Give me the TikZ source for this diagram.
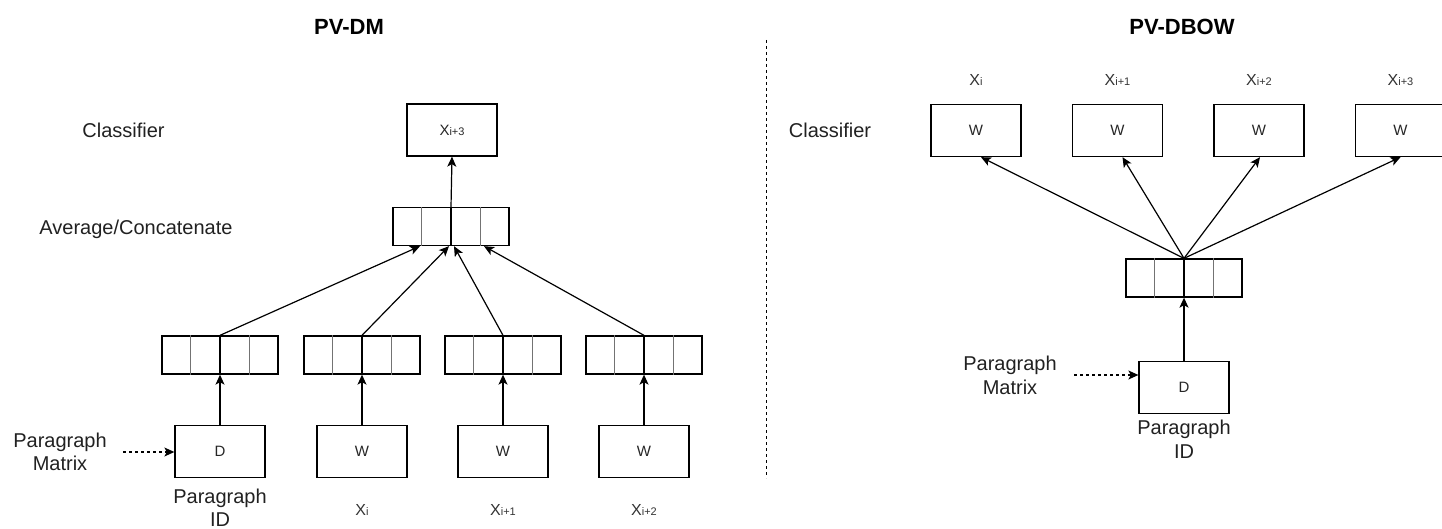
\documentclass[tikz,border=0pt]{standalone}
\usepackage{fontspec}
\setmainfont{Liberation Sans}
\usetikzlibrary{arrows.meta,calc}
% word label with a small index set beside the X
\newcommand{\xsub}[1]{X{\fontsize{11}{11}\selectfont #1}}

\begin{document}
\begin{tikzpicture}[x=1pt,y=-1pt,
  box/.style={draw, line width=1.3pt, minimum width=90pt, minimum height=52pt,
              inner sep=0pt, text=black!85, font=\fontsize{15}{15}\selectfont},
  vec/.style={draw, line width=1.3pt, minimum width=116pt, minimum height=38pt, inner sep=0pt},
  lbl/.style={font=\fontsize{20}{23.5}\selectfont, align=center, inner sep=0pt, text=black!87},
  ttl/.style={font=\fontsize{22}{22}\selectfont\bfseries, inner sep=0pt, anchor=base},
  xl/.style={font=\fontsize{16}{16}\selectfont, inner sep=0pt, anchor=base, text=black!80},
  arr/.style={-{Stealth[length=10pt,width=9pt,inset=2.5pt]}, line width=1.2pt},
  darr/.style={arr, dash pattern=on 3pt off 3pt}
]
\useasboundingbox (0,0) rectangle (1442,529);

% titles and separator
\node[ttl] (tdm) at (349,35) {PV-DM};
\node[ttl] (tdbow) at (1182,35) {PV-DBOW};
\coordinate (sepT) at (766,40);
\coordinate (sepB) at (766,478);
\draw[line width=1pt, dash pattern=on 3pt off 3pt] (sepT) -- (sepB);

% ---------------- PV-DM ----------------
\node[lbl, anchor=base] (clsL) at (123.5,137.5) {Classifier};
\node[lbl, anchor=base] (avgL) at (136,234.5) {Average/Concatenate};

\node[box] (out) at (452,130) {\xsub{i+3}};
\node[vec] (avg) at (451,226.5) {};

\node[vec] (vA) at (220,355) {};
\node[vec] (vB) at (362,355) {};
\node[vec] (vC) at (503,355) {};
\node[vec] (vD) at (644,355) {};

\node[box] (bD)  at (220,451.5) {D};
\node[box] (bW1) at (362,451.5) {W};
\node[box] (bW2) at (503,451.5) {W};
\node[box] (bW3) at (644,451.5) {W};

\node[xl] (lx1) at (362,515.5) {\xsub{i}};
\node[xl] (lx2) at (503,515.5) {\xsub{i+1}};
\node[xl] (lx3) at (644,515.5) {\xsub{i+2}};

\node[lbl] (pidL) at (220,507.5) {Paragraph\\ID};
\node[lbl] (pmL) at (60,452) {Paragraph\\Matrix};
\coordinate (dsL) at (123,452);
\draw[darr] (dsL) -- (dsL -| bD.west);

\draw[arr] (bD.north) -- (vA.south);
\draw[arr] (bW1.north) -- (vB.south);
\draw[arr] (bW2.north) -- (vC.south);
\draw[arr] (bW3.north) -- (vD.south);

\draw[arr] (vA.north) -- ([xshift=-31pt]avg.south);
\draw[arr] (vB.north) -- ([xshift=-2pt]avg.south);
\draw[arr] (vC.north) -- ([xshift=3pt]avg.south);
\draw[arr] (vD.north) -- ([xshift=33pt]avg.south);
\draw[arr] (avg.north) -- (out.south);

% ---------------- PV-DBOW ----------------
\node[lbl, anchor=base] (clsR) at (830,137.5) {Classifier};

\node[xl] (rx0) at (976,86) {\xsub{i}};
\node[xl] (rx1) at (1117.5,86) {\xsub{i+1}};
\node[xl] (rx2) at (1259,86) {\xsub{i+2}};
\node[xl] (rx3) at (1400.5,86) {\xsub{i+3}};

\node[box] (rW0) at (976,130.5) {W};
\node[box] (rW1) at (1117.5,130.5) {W};
\node[box] (rW2) at (1259,130.5) {W};
\node[box] (rW3) at (1400.5,130.5) {W};

\node[vec] (vR) at (1184,278) {};
\node[box] (rD) at (1184,387.5) {D};

\node[lbl] (pidR) at (1184,439.5) {Paragraph\\ID};
\node[lbl] (pmR) at (1010,375.5) {Paragraph\\Matrix};
\coordinate (dsR) at (1074,375);
\draw[darr] (dsR) -- (dsR -| rD.west);

\draw[arr] (rD.north) -- (vR.south);
\draw[arr] (vR.north) -- ([xshift=5pt]rW0.south);
\draw[arr] (vR.north) -- ([xshift=5pt]rW1.south);
\draw[arr] (vR.north) -- ([xshift=1pt]rW2.south);
\draw[arr] (vR.north) -- (rW3.south);

% cell dividers of the embedding vectors
\foreach \v in {vA,vB,vC,vD,avg,vR} {
  \draw[black!55, line width=1.6pt]
    ($(\v.north west)!0.25!(\v.north east)$) -- ($(\v.south west)!0.25!(\v.south east)$)
    ($(\v.north west)!0.75!(\v.north east)$) -- ($(\v.south west)!0.75!(\v.south east)$);
  \draw[black, line width=1.2pt] (\v.north) -- (\v.south);
}
\end{tikzpicture}
\end{document}
